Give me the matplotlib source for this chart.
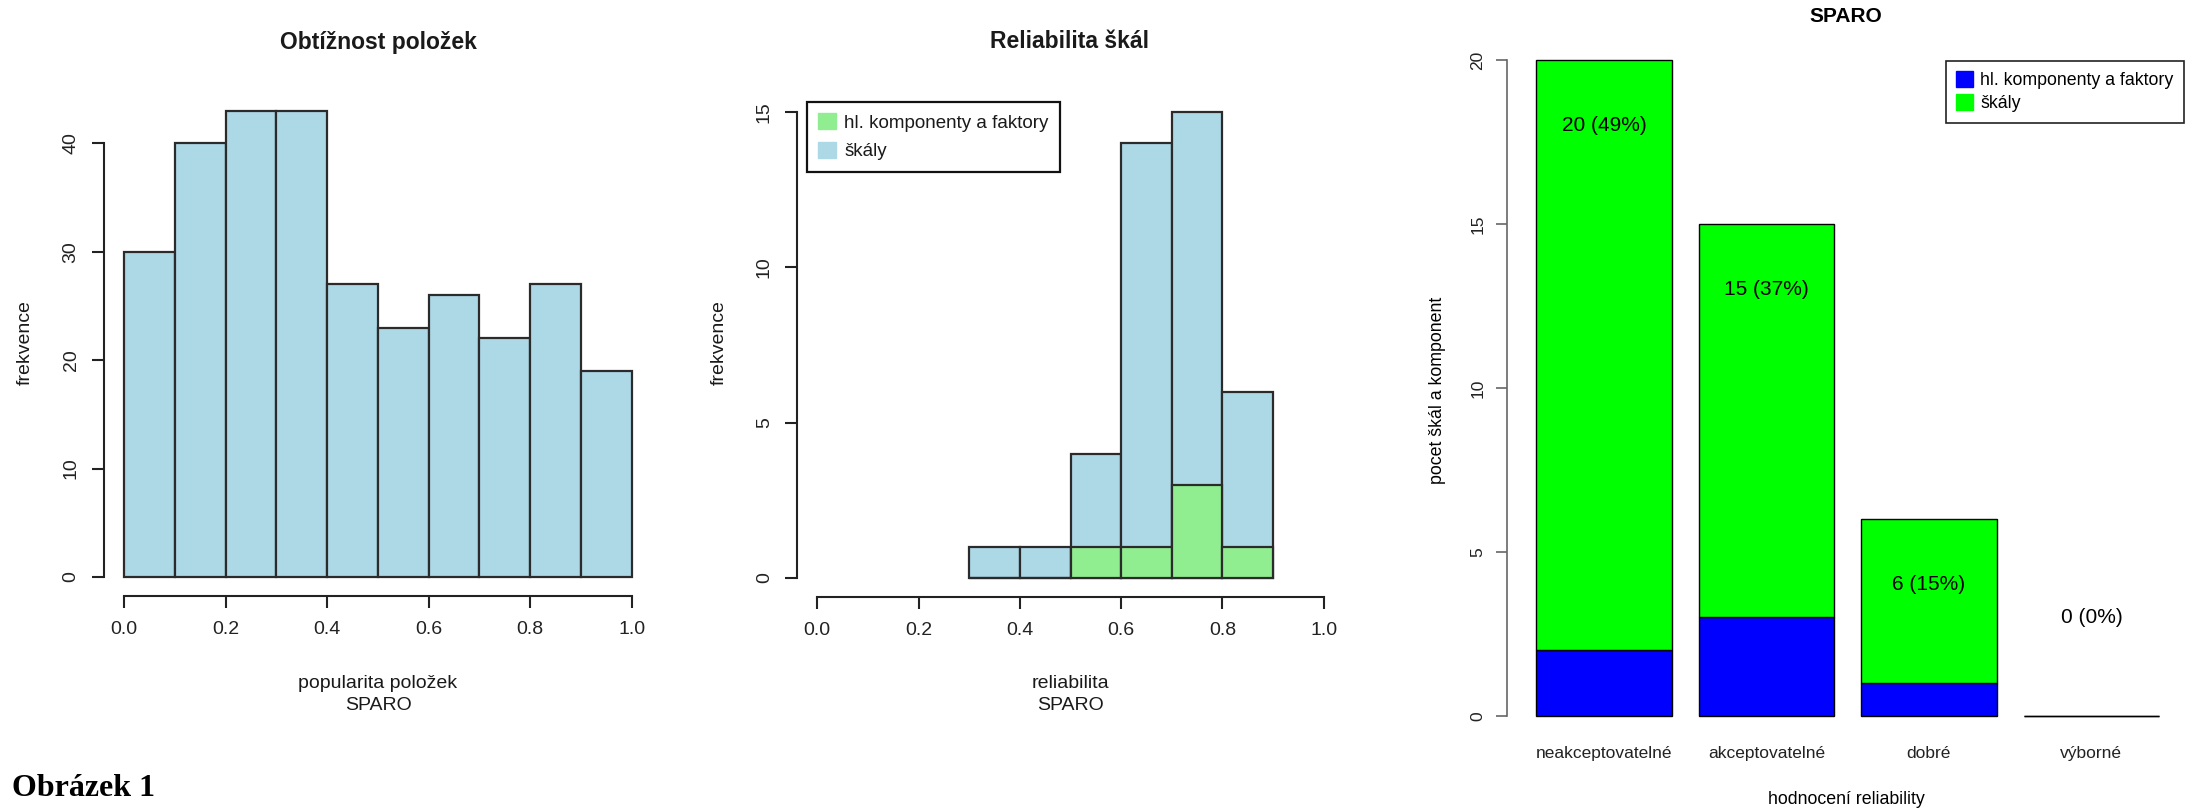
import numpy as np
import matplotlib
matplotlib.use('Agg')
import matplotlib.pyplot as plt
from matplotlib.patches import Patch

plt.rcParams['font.family'] = ['Liberation Sans', 'DejaVu Sans']

# Obtížnost položek - histogram popularity položek
pop_left = [0.0, 0.1, 0.2, 0.3, 0.4, 0.5, 0.6, 0.7, 0.8, 0.9]
pop_counts = [30, 40, 43, 43, 27, 23, 26, 22, 27, 19]

# Reliabilita škál - škály a hl. komponenty (překryté histogramy)
rel_left = [0.3, 0.4, 0.5, 0.6, 0.7, 0.8]
rel_skaly = [1, 1, 4, 14, 15, 6]
rel_komp = [0, 0, 1, 1, 3, 1]

# SPARO - hodnocení reliability
kategorie = ['neakceptovatelné', 'akceptovatelné', 'dobré', 'výborné']
komponenty = [2, 3, 1, 0]
skaly_kat = [18, 12, 5, 0]

W, H = 2198, 809
fig = plt.figure(figsize=(W / 100, H / 100), dpi=100)


def box(x0, y0, x1, y1):
    return [x0 / W, 1 - y1 / H, (x1 - x0) / W, (y1 - y0) / H]


def r_axes(ax, xb, yb, lw=1.5, col='#222222', size=14, tlen=8.4):
    for s in ['top', 'right']:
        ax.spines[s].set_visible(False)
    ax.spines['left'].set_bounds(*yb)
    ax.spines['bottom'].set_bounds(*xb)
    for s in ['left', 'bottom']:
        ax.spines[s].set_linewidth(lw)
        ax.spines[s].set_color(col)
    ax.tick_params(length=tlen, width=lw, color=col, labelsize=size,
                   labelcolor='#222222')
    ax.tick_params(axis='y', labelrotation=90, pad=9)
    ax.tick_params(axis='x', pad=10)
    for lab in ax.get_yticklabels():
        lab.set_va('center')


txt = '#1a1a1a'
edge = '#2b2b2b'

# --- panel 1 ---
ax1 = fig.add_axes(box(103.7, 92, 652, 595.7))
ax1.bar(pop_left, pop_counts, width=0.1, align='edge', color='#ADD8E6',
        edgecolor=edge, linewidth=1.6)
ax1.set_xlim(-0.04, 1.04)
ax1.set_ylim(-1.72, 44.72)
ax1.set_xticks([0, 0.2, 0.4, 0.6, 0.8, 1.0])
ax1.set_xticklabels(['0.0', '0.2', '0.4', '0.6', '0.8', '1.0'])
ax1.set_yticks([0, 10, 20, 30, 40])
r_axes(ax1, (0, 1), (0, 40))
fig.text(378 / W, 1 - 42 / H, 'Obtížnost položek', ha='center', va='center',
         fontsize=16.5, fontweight='bold', color=txt)
fig.text(25 / W, 1 - 343 / H, 'frekvence', ha='center', va='center',
         rotation=90, fontsize=14, color=txt)
fig.text(378 / W, 1 - 684 / H, 'popularita položek', ha='center', va='center',
         fontsize=14, color=txt)
fig.text(378 / W, 1 - 706 / H, 'SPARO', ha='center', va='center',
         fontsize=14, color=txt)

# --- panel 2 ---
ax2 = fig.add_axes(box(797, 93.3, 1344, 596.6))
ax2.bar(rel_left, rel_skaly, width=0.1, align='edge', color='#ADD8E6',
        edgecolor=edge, linewidth=1.6)
ax2.bar(rel_left, rel_komp, width=0.1, align='edge', color='#90EE90',
        edgecolor=edge, linewidth=1.6)
ax2.set_xlim(-0.04, 1.04)
ax2.set_ylim(-0.6, 15.6)
ax2.set_xticks([0, 0.2, 0.4, 0.6, 0.8, 1.0])
ax2.set_xticklabels(['0.0', '0.2', '0.4', '0.6', '0.8', '1.0'])
ax2.set_yticks([0, 5, 10, 15])
r_axes(ax2, (0, 1), (0, 15))
fig.text(1070 / W, 1 - 42 / H, 'Reliabilita škál', ha='center', va='center',
         fontsize=16.5, fontweight='bold', color=txt)
fig.text(719 / W, 1 - 343 / H, 'frekvence', ha='center', va='center',
         rotation=90, fontsize=14, color=txt)
fig.text(1070 / W, 1 - 684 / H, 'reliabilita', ha='center', va='center',
         fontsize=14, color=txt)
fig.text(1070 / W, 1 - 706 / H, 'SPARO', ha='center', va='center',
         fontsize=14, color=txt)
leg2 = fig.legend(handles=[Patch(color='#90EE90', label='hl. komponenty a faktory'),
                           Patch(color='#ADD8E6', label='škály')],
                  loc='upper left', bbox_to_anchor=(807 / W, 1 - 102 / H),
                  fontsize=13.5, frameon=True, fancybox=False, framealpha=1,
                  edgecolor='#111111', handlelength=0.93, handleheight=0.93,
                  handletextpad=0.45, labelspacing=0.55, borderpad=0.6,
                  borderaxespad=0)
leg2.get_frame().set_linewidth(1.6)
for t in leg2.get_texts():
    t.set_color(txt)

# --- panel 3 ---
ax3 = fig.add_axes(box(1507, 34, 2184, 742))
pozice = np.arange(len(kategorie)) * 1.2 + 0.7
celkem = np.array(komponenty) + np.array(skaly_kat)
ax3.bar(pozice, komponenty, width=1.0, color='#0000FF', edgecolor='black',
        linewidth=1.0)
ax3.bar(pozice, skaly_kat, width=1.0, bottom=komponenty, color='#00FF00',
        edgecolor='black', linewidth=1.0)
ax3.set_xlim(-0.016, 4.984)
ax3.set_ylim(-0.8, 20.8)
ax3.set_yticks([0, 5, 10, 15, 20])
ax3.set_xticks(pozice)
ax3.set_xticklabels(kategorie)
r_axes(ax3, (0, 0), (0, 20), lw=1.2, col='#666666', size=12.5, tlen=7.7)
ax3.spines['bottom'].set_visible(False)
ax3.tick_params(axis='x', length=0, pad=3)
ax3.tick_params(axis='y', pad=8)
suma = celkem.sum()
for x, c in zip(pozice, celkem):
    ax3.text(x, max(c - 2, 3), f'{c} ({round(100 * c / suma)}%)',
             ha='center', va='center', fontsize=15, color='black')
fig.text(1846 / W, 1 - 17 / H, 'SPARO', ha='center', va='center',
         fontsize=15, fontweight='bold', color='black')
fig.text(1437 / W, 1 - 390 / H, 'pocet škál a komponent', ha='center',
         va='center', rotation=90, fontsize=12.8, color='black')
fig.text(1846 / W, 1 - 799 / H, 'hodnocení reliability', ha='center',
         va='center', fontsize=12.8, color='black')
leg3 = fig.legend(handles=[Patch(color='#0000FF', label='hl. komponenty a faktory'),
                           Patch(color='#00FF00', label='škály')],
                  loc='upper right', bbox_to_anchor=(2184 / W, 1 - 61 / H),
                  fontsize=12.8, frameon=True, fancybox=False, framealpha=1,
                  edgecolor='#222222', handlelength=0.95, handleheight=0.95,
                  handletextpad=0.4, labelspacing=0.3, borderpad=0.58,
                  borderaxespad=0)
leg3.get_frame().set_linewidth(1.2)

fig.text(12 / W, 1 - 788 / H, 'Obrázek 1', ha='left', va='center',
         fontsize=23, fontweight='bold', family='Liberation Serif', color='black')

fig.savefig('out.png', dpi=100)
